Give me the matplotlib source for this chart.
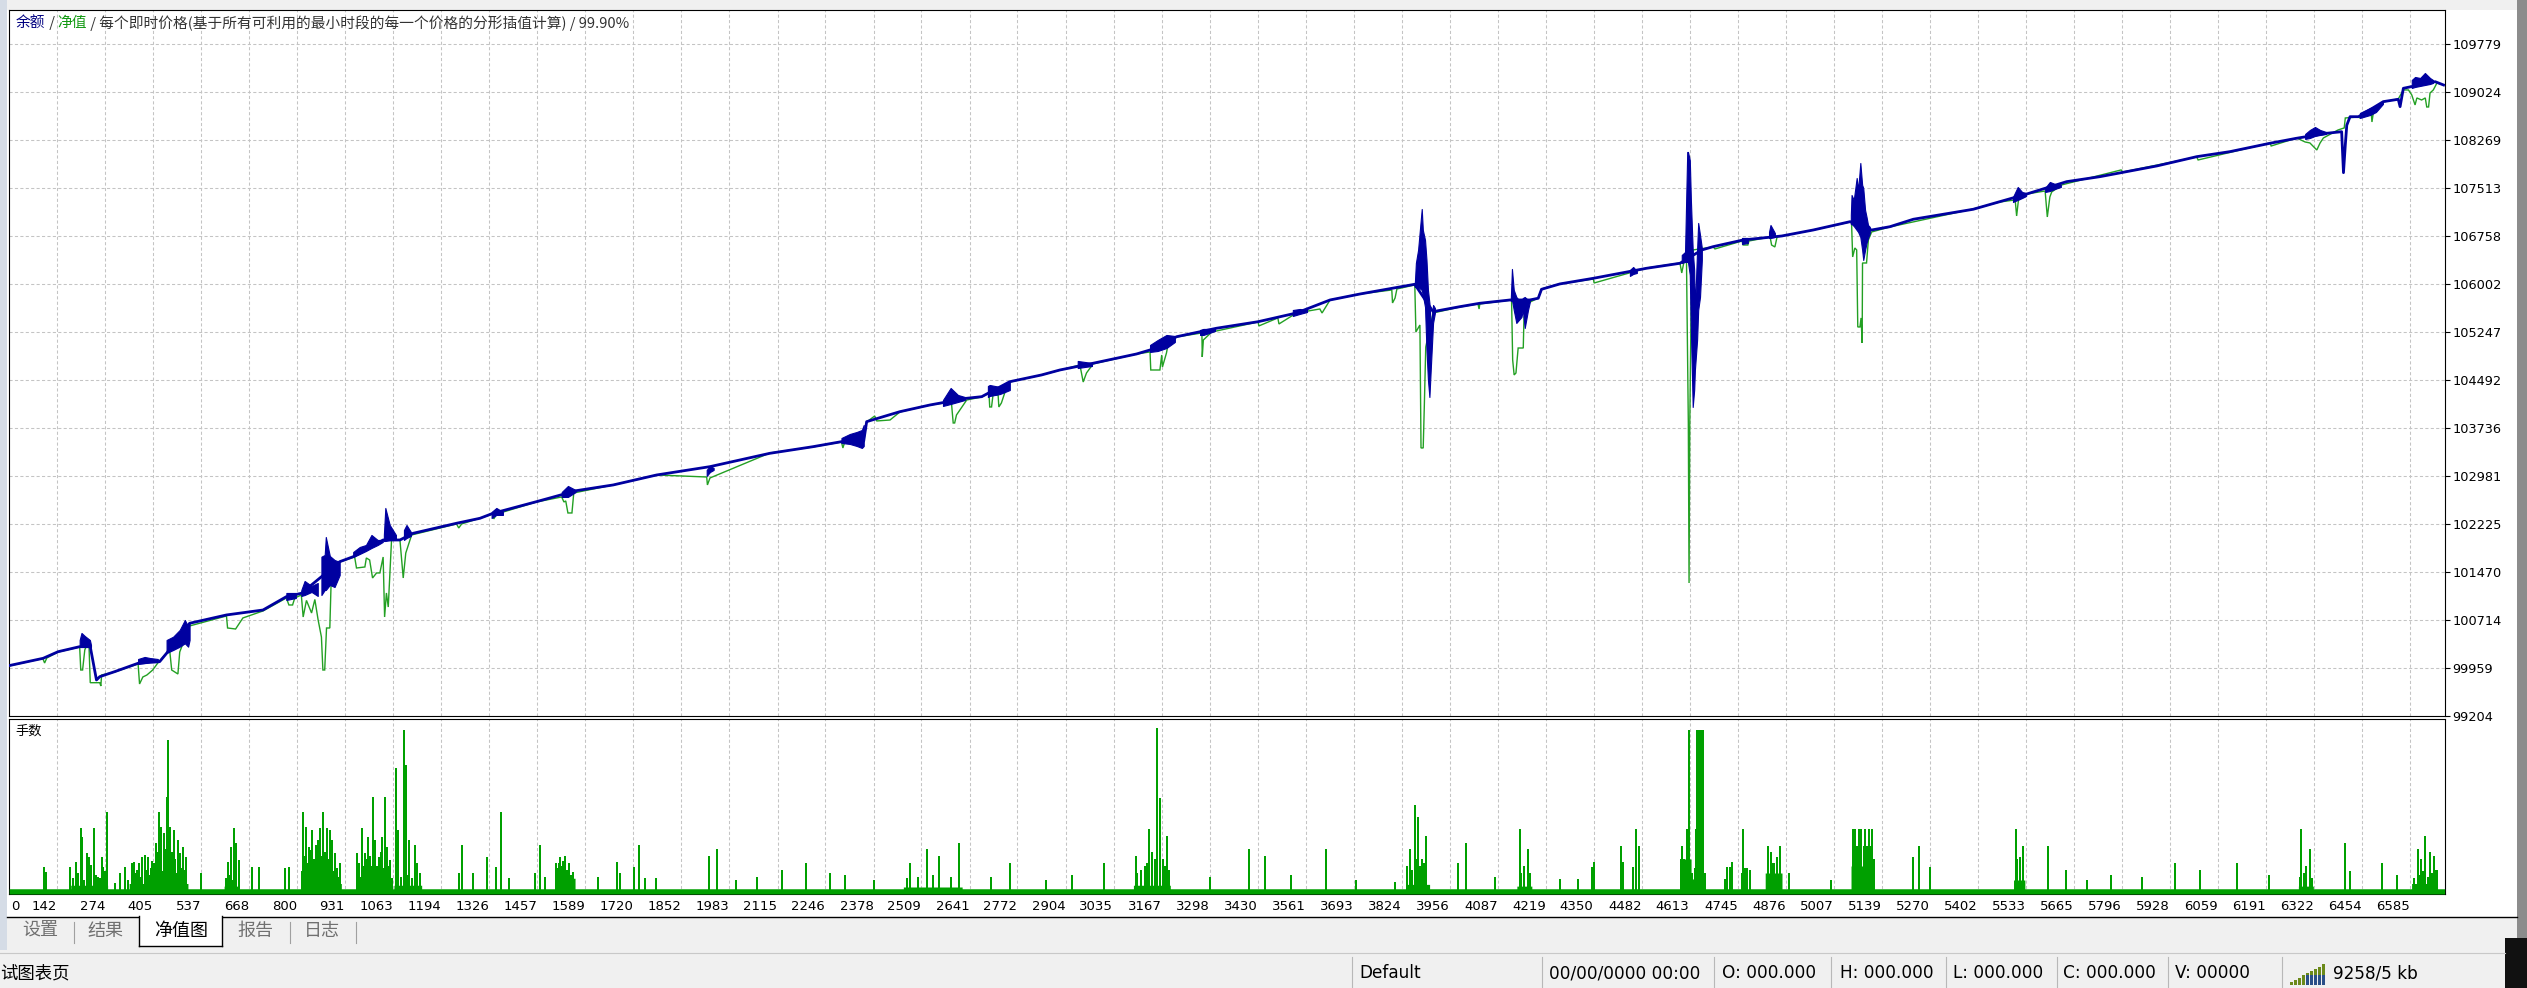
import numpy as np
import matplotlib
matplotlib.use('Agg')
import matplotlib.pyplot as plt
from matplotlib.patches import Rectangle
from matplotlib.lines import Line2D
from matplotlib.transforms import blended_transform_factory

W, H, DPI = 2527, 988, 100
CJK = ['Noto Sans CJK SC', 'DejaVu Sans']
NUM = 'DejaVu Sans'

BLUE = '#0000a0'
GREEN = '#23a023'
VGREEN = '#00a000'
GRID = '#c4c4c4'

# ---------------- data ----------------
X_TICKS = [142, 274, 405, 537, 668, 800, 931, 1063, 1194, 1326, 1457, 1589, 1720, 1852,
           1983, 2115, 2246, 2378, 2509, 2641, 2772, 2904, 3035, 3167, 3298, 3430, 3561,
           3693, 3824, 3956, 4087, 4219, 4350, 4482, 4613, 4745, 4876, 5007, 5139, 5270,
           5402, 5533, 5665, 5796, 5928, 6059, 6191, 6322, 6454, 6585]
Y_TICKS = [99204, 99959, 100714, 101470, 102225, 102981, 103736, 104492, 105247,
           106002, 106758, 107513, 108269, 109024, 109779]
X_MIN, X_MAX = 10.5, 6681
Y_MIN, Y_MAX = 99204, 110314

# balance (blue)
BAL_X = [10, 104, 145, 204, 233, 250, 259, 300, 364, 423, 442, 505, 606, 706, 770, 811,
         916, 953, 1035, 1081, 1117, 1236, 1300, 1336, 1455, 1564, 1665, 1784, 1930, 2094,
         2212, 2290, 2351, 2359, 2450, 2532, 2633, 2674, 2751, 2838, 2888, 2979, 3098, 3135,
         3208, 3317, 3431, 3536, 3628, 3710, 3860, 3910, 3984, 4038, 4121, 4175, 4198, 4207,
         4257, 4349, 4495, 4586, 4646, 4677, 4759, 4865, 4951, 5052, 5111, 5161, 5225, 5389,
         5462, 5536, 5645, 5736, 5892, 6001, 6092, 6202, 6275, 6357, 6398, 6403, 6408, 6412,
         6421, 6444, 6512, 6553, 6558, 6567, 6654, 6677]
BAL_Y = [99996, 100112, 100216, 100295, 100295, 99771, 99823, 99902, 100034, 100059, 100191,
         100663, 100794, 100872, 101082, 101135, 101632, 101711, 101974, 101974, 102079,
         102237, 102315, 102394, 102577, 102750, 102840, 102997, 103128, 103338, 103442,
         103521, 103532, 103836, 103993, 104098, 104204, 104229, 104465, 104571, 104649,
         104755, 104901, 104964, 105173, 105306, 105409, 105546, 105751, 105845, 105998,
         105567, 105646, 105699, 105751, 105751, 105778, 105919, 106003, 106092, 106250,
         106328, 106538, 106590, 106695, 106758, 106852, 106983, 106852, 106904, 107021,
         107178, 107298, 107419, 107613, 107691, 107860, 108006, 108085, 108217, 108296,
         108374, 108399, 107754, 108190, 108500, 108635, 108635, 108872, 108909, 108793,
         109082, 109186, 109134]

# balance swings drawn as filled blobs: x, upper, lower
BLOB_X = [[204, 209, 218, 232, 235], [364, 382, 396, 418], [442, 460, 478, 492, 501, 505],
          [770, 796], [811, 820, 839, 856], [866, 875, 878, 889, 902, 916],
          [953, 971, 988, 1003, 1020, 1034], [1037, 1041, 1053, 1070], [1092, 1099, 1111],
          [1332, 1345, 1363], [1524, 1541, 1562], [1921, 1930, 1940],
          [2290, 2313, 2332, 2346, 2351], [2568, 2589, 2609, 2628], [2691, 2696, 2724, 2751],
          [2937, 2957, 2976], [3135, 3156, 3180, 3203], [3272, 3281, 3313], [3526, 3545, 3565],
          [3860, 3863, 3869, 3879, 3882, 3888, 3892, 3896, 3900, 3904, 3910, 3915],
          [4123, 4126, 4131, 4138, 4145, 4152, 4156, 4161, 4170, 4175],
          [4449, 4458, 4468],
          [4591, 4600, 4606, 4608, 4613, 4616, 4621, 4625, 4627, 4633, 4636, 4641, 4646],
          [4756, 4772], [4830, 4834, 4846],
          [5054, 5056, 5062, 5070, 5074, 5080, 5085, 5088, 5093, 5097, 5101, 5106],
          [5498, 5511, 5523, 5534], [5586, 5599, 5613, 5629], [6298, 6311, 6325, 6339, 6355],
          [6448, 6476, 6492, 6511], [6590, 6599, 6613, 6626, 6640, 6648]]
BLOB_HI = [[100400, 100511, 100463, 100400, 100322], [100101, 100133, 100117, 100101],
           [100400, 100452, 100558, 100715, 100610, 100668], [101140, 101140],
           [101187, 101329, 101250, 101297], [101711, 101738, 102021, 101722, 101659, 101628],
           [101785, 101864, 101895, 102053, 101974, 101974], [102053, 102478, 102210, 102053],
           [102131, 102210, 102100], [102415, 102478, 102415], [102729, 102824, 102761],
           [103076, 103139, 103107], [103579, 103642, 103674, 103705, 103784],
           [104177, 104366, 104256, 104224], [104397, 104413, 104382, 104460],
           [104791, 104775, 104759], [105043, 105121, 105200, 105184], [105279, 105295, 105295],
           [105593, 105609, 105593],
           [106003, 106333, 106538, 107183, 106852, 106695, 106380, 105908, 105704, 105326,
            105672, 105625],
           [105782, 106239, 105908, 105798, 105751, 105751, 105782, 105798, 105751, 105767],
           [106223, 106270, 106207],
           [106459, 106506, 108080, 108080, 107954, 107325, 106538, 106223, 105593, 106538,
            106963, 106774, 106569],
           [106727, 106727], [106821, 106931, 106805],
           [107089, 107403, 107325, 107671, 107482, 107907, 107561, 107513, 107167, 107057,
            106931, 106900],
           [107372, 107529, 107450, 107435], [107513, 107608, 107576, 107561],
           [108363, 108426, 108473, 108426, 108395], [108694, 108772, 108804, 108883],
           [109213, 109260, 109244, 109323, 109244, 109213]]
BLOB_LO = [[100290, 100290, 100290, 100290, 100290], [100023, 100038, 100054, 100054],
           [100196, 100243, 100295, 100348, 100295, 100400], [101030, 101061],
           [101093, 101108, 101156, 101093], [101108, 101187, 101187, 101266, 101234, 101423],
           [101706, 101754, 101801, 101848, 101895, 101943], [101958, 101958, 101974, 101974],
           [101974, 102005, 102037], [102320, 102368, 102368], [102651, 102651, 102729],
           [102981, 103044, 103076], [103501, 103485, 103453, 103422, 103453],
           [104083, 104114, 104146, 104177], [104224, 104240, 104271, 104334],
           [104680, 104697, 104712], [104933, 104948, 104995, 105090], [105200, 105200, 105263],
           [105499, 105531, 105562],
           [105955, 105955, 105955, 105908, 105830, 105641, 104964, 104492, 104224, 104697,
            105389, 105546],
           [105735, 105751, 105593, 105389, 105436, 105483, 105593, 105310, 105593, 105720],
           [106129, 106160, 106176],
           [106333, 106349, 106349, 106349, 106145, 105279, 104067, 104334, 104649, 105121,
            105593, 105798, 106380],
           [106632, 106648], [106727, 106727, 106742],
           [106947, 106947, 106915, 106852, 106821, 106742, 106538, 106380, 106538, 106648,
            106727, 106805],
           [107293, 107325, 107356, 107387], [107450, 107466, 107498, 107529],
           [108285, 108300, 108332, 108348, 108363], [108615, 108662, 108709, 108835],
           [109087, 109103, 109119, 109134, 109150, 109166]]

# equity (green)
EQ_X = [10, 103, 108, 114, 145, 204, 207, 212, 218, 229, 233, 259, 262, 264, 300, 364, 368,
        377, 388, 404, 418, 442, 451, 456, 473, 478, 505, 606, 609, 631, 651, 706, 770, 777,
        787, 793, 811, 816, 825, 839, 848, 857, 866, 870, 875, 880, 889, 893, 902, 916, 957,
        962, 985, 989, 998, 1006, 1017, 1026, 1035, 1039, 1044, 1049, 1058, 1081, 1090, 1097,
        1113, 1236, 1242, 1250, 1336, 1338, 1346, 1455, 1524, 1530, 1535, 1541, 1552, 1557,
        1665, 1784, 1921, 1923, 1930, 2094, 2212, 2290, 2294, 2299, 2351, 2359, 2381, 2387,
        2423, 2450, 2532, 2591, 2596, 2600, 2605, 2633, 2674, 2694, 2696, 2701, 2705, 2719,
        2721, 2728, 2737, 2751, 2838, 2943, 2952, 2961, 2979, 3098, 3135, 3137, 3162, 3167,
        3169, 3180, 3185, 3208, 3277, 3278, 3281, 3304, 3431, 3433, 3485, 3488, 3536, 3600,
        3606, 3628, 3710, 3797, 3799, 3806, 3811, 3860, 3863, 3874, 3877, 3883, 3886, 3890,
        3910, 3984, 4033, 4036, 4038, 4125, 4128, 4132, 4137, 4143, 4157, 4159, 4171, 4198,
        4207, 4257, 4349, 4351, 4495, 4586, 4591, 4597, 4604, 4609, 4611, 4613, 4618, 4622,
        4677, 4682, 4756, 4759, 4772, 4775, 4833, 4837, 4846, 4852, 4951, 5052, 5056, 5059,
        5065, 5070, 5073, 5079, 5082, 5085, 5086, 5097, 5102, 5111, 5161, 5389, 5462, 5504,
        5508, 5513, 5536, 5586, 5592, 5599, 5604, 5631, 5794, 5799, 6001, 6005, 6202, 6205,
        6275, 6298, 6311, 6330, 6339, 6348, 6388, 6405, 6408, 6444, 6448, 6457, 6479, 6481,
        6485, 6512, 6553, 6567, 6581, 6590, 6599, 6604, 6617, 6627, 6631, 6636, 6640, 6649,
        6659, 6677]
EQ_Y = [99991, 100109, 100038, 100117, 100211, 100290, 99928, 99928, 100243, 100400, 99728,
        99728, 99676, 99849, 99897, 100023, 99708, 99818, 99849, 99928, 100038, 100196, 100211,
        99928, 99865, 100211, 100621, 100778, 100589, 100573, 100747, 100857, 101061, 100951,
        100951, 101061, 101108, 100762, 101023, 100825, 101038, 100715, 100447, 99928, 99928,
        100589, 100589, 101397, 101455, 101628, 101706, 101533, 101549, 101691, 101659, 101376,
        101455, 101455, 101706, 100762, 101140, 100919, 101974, 101974, 101376, 101769, 102053,
        102226, 102163, 102226, 102383, 102305, 102383, 102572, 102651, 102572, 102588, 102399,
        102399, 102714, 102840, 102997, 102965, 102840, 102950, 103343, 103438, 103516, 103422,
        103516, 103516, 103831, 103925, 103847, 103862, 103988, 104098, 104146, 103815, 103815,
        103941, 104177, 104224, 104287, 104067, 104067, 104256, 104256, 104067, 104130, 104287,
        104460, 104571, 104728, 104460, 104602, 104744, 104901, 104933, 104649, 104649, 104885,
        104697, 104917, 105074, 105169, 105232, 104854, 105121, 105247, 105405, 105342, 105468,
        105373, 105546, 105609, 105546, 105751, 105845, 105908, 105704, 105782, 105924, 105987,
        105247, 105357, 103422, 103422, 104067, 105011, 105546, 105641, 105688, 105609, 105688,
        105751, 104807, 104571, 104602, 104995, 104995, 105483, 105704, 105782, 105924, 106003,
        106081, 106018, 106254, 106333, 106176, 106349, 106349, 103815, 101297, 103815, 106333,
        106538, 106585, 106554, 106679, 106616, 106616, 106679, 106742, 106616, 106585, 106742,
        106852, 106978, 106963, 106428, 106569, 106538, 105326, 105326, 105468, 105074, 106333,
        106333, 106696, 106821, 106900, 107183, 107293, 107325, 107073, 107325, 107419, 107466,
        107057, 107372, 107450, 107561, 107797, 107765, 108001, 107954, 108222, 108174, 108300,
        108237, 108222, 108111, 108222, 108300, 108426, 108458, 108615, 108630, 108615, 108662,
        108694, 108552, 108709, 108867, 108914, 109056, 109056, 108977, 108820, 108930, 108898,
        108930, 108788, 108788, 109008, 109056, 109166, 109134]

# lots (手数) panel: (bar, height in % of panel)
VOL_BASE = 3
VOL_SPIKES = [
    (107, 15.6), (111, 12.8), (178, 15.6), (186, 9), (195, 18.5), (200, 12), (208, 37.5),
    (211, 32.8), (216, 8), (223, 23.2), (230, 21.3), (236, 16.6), (244, 37.5), (250, 11),
    (254, 9.9), (260, 9), (266, 21.3), (269, 15.6), (274, 13), (278, 47.1), (300, 6.1),
    (315, 11.8), (327, 15.6), (336, 8), (346, 17.5), (352, 18.5), (356, 12), (360, 14),
    (366, 18), (370, 10), (374, 21.3), (382, 22.3), (386, 14), (391, 21.3), (394, 11),
    (398, 15), (402, 19), (407, 17.5), (410, 16), (413, 29), (418, 24), (421, 47.1),
    (425, 20), (428, 38.5), (431, 13), (435, 34.7), (438, 26), (443, 55.6), (446, 88),
    (450, 30), (452, 38.5), (456, 24), (458, 17), (462, 36.6), (466, 20), (469, 12),
    (472, 30.9), (476, 16), (480, 23.2), (483, 15), (486, 27), (490, 14), (493, 11),
    (496, 21.3), (535, 11.8), (604, 9), (609, 18.5), (614, 11), (618, 27), (623, 8),
    (627, 37.5), (633, 29), (639, 19.4), (676, 15.6), (694, 15.6), (767, 14.7), (777, 15.6),
    (812, 13), (816, 47.1), (820, 22), (824, 38.5), (828, 18), (831, 27), (835, 25),
    (838, 15), (841, 36.6), (844, 11), (846, 20), (850, 28), (854, 17), (857, 30.9),
    (860, 14), (863, 37.5), (867, 22), (871, 47.1), (874, 12), (876, 24), (881, 37.5),
    (884, 16), (886, 20), (890, 36.6), (893, 18), (896, 30.9), (899, 13), (902, 23.2),
    (908, 15), (912, 10), (918, 17.5), (963, 23.2), (966, 12), (970, 18), (974, 10),
    (978, 37.5), (982, 16), (985, 23.2), (989, 14), (990, 20), (994, 32.8), (997, 11),
    (1000, 22), (1003, 16), (1006, 55.6), (1012, 30.9), (1015, 13), (1018, 16), (1021, 10),
    (1024, 21.3), (1028, 24), (1033, 32.8), (1036, 15), (1039, 55.6), (1043, 20), (1046, 27),
    (1050, 16), (1052, 12), (1055, 19.4), (1060, 9), (1069, 71.8), (1073, 13), (1077, 36.6),
    (1084, 10), (1091, 93.7), (1098, 73.7), (1102, 11), (1107, 30.9), (1115, 9),
    (1122, 28), (1128, 17.5), (1137, 11.8), (1244, 11.8), (1250, 28), (1281, 11.8),
    (1320, 21.3), (1345, 15.6), (1357, 47.1), (1379, 9), (1452, 11.8), (1464, 28),
    (1479, 9.9), (1507, 17.5), (1512, 15), (1516, 18), (1519, 21.3), (1524, 16), (1528, 19),
    (1532, 21.7), (1538, 14), (1544, 17.5), (1550, 11), (1556, 12.8), (1623, 9.9),
    (1676, 18.5), (1684, 11.8), (1721, 15.6), (1736, 28), (1752, 9), (1782, 9),
    (1927, 22), (1949, 26), (2000, 8), (2060, 10), (2126, 14), (2192, 18), (2258, 12),
    (2300, 11), (2380, 8), (2470, 9), (2479, 18), (2500, 10), (2523, 26), (2540, 11),
    (2558, 22), (2590, 10), (2611, 29), (2700, 10), (2752, 18), (2850, 8), (2920, 11),
    (3008, 18), (3097, 22), (3100, 12), (3110, 14), (3120, 16), (3126, 18), (3132, 37),
    (3140, 24), (3148, 20), (3154, 94.6), (3163, 55), (3170, 20), (3176, 16), (3181, 33),
    (3186, 14), (3300, 10), (3406, 26), (3450, 22), (3520, 11), (3617, 26), (3700, 8),
    (3807, 7), (3840, 16), (3847, 26), (3852, 14), (3860, 51), (3864, 20), (3869, 44),
    (3875, 16), (3880, 20), (3886, 18), (3891, 33), (3979, 18), (4001, 29), (4080, 10),
    (4147, 37), (4150, 12), (4160, 16), (4169, 26), (4176, 12),
    (4257, 8.6), (4307, 8.6), (4344, 15.3), (4350, 18.2), (4425, 27.7), (4431, 18.2),
    (4458, 15.3), (4467, 36.9), (4475, 27.7), (4588, 20), (4591, 27.7), (4596, 20),
    (4600, 18), (4605, 36.9), (4609, 25), (4612, 93.7), (4620, 12), (4626, 15),
    (4629, 36.9), (4632, 93.7), (4636, 20), (4639, 93.7), (4645, 93.7), (4650, 93.7),
    (4654, 12), (4709, 8.6), (4715, 15.3), (4723, 15.3), (4729, 18.2), (4755, 12),
    (4759, 36.9), (4764, 15), (4770, 15), (4777, 14), (4828, 27.7), (4835, 24), (4840, 18),
    (4844, 18), (4852, 21), (4859, 27.7), (4884, 12), (5000, 8), (5059, 36.9), (5063, 27.7),
    (5066, 36.9), (5071, 27.7), (5075, 36.9), (5079, 27.7), (5083, 36.9), (5089, 27.7),
    (5094, 36.9), (5099, 27.7), (5103, 36.9), (5108, 27.7), (5111, 36.9), (5117, 20),
    (5225, 21), (5240, 27.7), (5270, 15.3), (5505, 36.9), (5508, 20), (5517, 21),
    (5526, 27.7), (5595, 27.7), (5643, 14), (5700, 8), (5767, 11), (5850, 10), (5943, 18),
    (6010, 14), (6111, 18), (6200, 11), (6284, 10), (6288, 37), (6296, 12), (6300, 16),
    (6310, 26), (6316, 9), (6407, 29), (6420, 13), (6509, 18), (6550, 11), (6596, 9),
    (6606, 26), (6610, 11), (6615, 20), (6622, 13), (6627, 33), (6634, 10), (6640, 24),
    (6645, 12), (6650, 22), (6655, 14), (6660, 14)]
CLUSTER_START = [180, 340, 600, 810, 960, 1065, 1505, 2460, 3090, 3840, 4140, 4588, 4617, 4820,
                 5055, 5500, 6280, 6590]
CLUSTER_END = [280, 500, 640, 920, 1060, 1140, 1560, 2620, 3190, 3900, 4180, 4616, 4655, 4865,
               5118, 5530, 6320, 6660]
CLUSTER_LOT = [5, 6, 4.5, 6, 7, 5, 9, 4, 5, 5.5, 4.5, 20, 8.6, 12, 16, 8, 4.5, 6]

TITLE_PARTS = ['余额', ' / ', '净值', ' / 每个即时价格(基于所有可利用的最小时段的每一个价格的分形插值计算) / 99.90%']
TITLE_COLORS = ['#000080', '#333333', '#119911', '#333333']
TABS = ['设置', '结果', '净值图', '报告', '日志']
STATUS = ['Default', '00/00/0000 00:00', 'O: 000.000', 'H: 000.000', 'L: 000.000',
          'C: 000.000', 'V: 00000', '9258/5 kb']


def fxp(x):
    return x / W


def fyp(y):
    return 1 - y / H


def rect(fig, x0, y0, x1, y1, color, z=-5, **kw):
    fig.patches.append(Rectangle((fxp(x0), fyp(y1)), (x1 - x0) / W, (y1 - y0) / H,
                                 transform=fig.transFigure, facecolor=color, zorder=z, **kw))


def hline(fig, x0, x1, y, color='black', lw=0.75, z=5):
    fig.add_artist(Line2D([fxp(x0), fxp(x1)], [fyp(y), fyp(y)], color=color, lw=lw,
                          transform=fig.transFigure, zorder=z))


def vline(fig, x, y0, y1, color='black', lw=0.75, z=5):
    fig.add_artist(Line2D([fxp(x), fxp(x)], [fyp(y0), fyp(y1)], color=color, lw=lw,
                          transform=fig.transFigure, zorder=z))


fig = plt.figure(figsize=(W / DPI, H / DPI), dpi=DPI, facecolor='#f0f0f0')

# window background pieces
rect(fig, 7, 10, 2517, 917, 'white', z=-10)
rect(fig, 0, 0, 7, 950, '#d5dce6', z=-9)
rect(fig, 2517, 0, W, H, '#8c8c8c', z=-9)
rect(fig, 2505, 938, W, H, '#111111', z=-8)

ax = fig.add_axes([fxp(9), fyp(716), (2445 - 9) / W, (716 - 10) / H])
axv = fig.add_axes([fxp(9), fyp(894), (2445 - 9) / W, (894 - 719) / H])

dash = (0, (3.0, 2.2))
for a in (ax, axv):
    a.set_facecolor('white')
    a.set_xlim(X_MIN, X_MAX)
    a.set_xticks(X_TICKS)
    a.tick_params(axis='x', length=0, labelbottom=False)
    a.grid(axis='x', color=GRID, lw=0.75, linestyle=dash, zorder=0)
    a.set_axisbelow(True)
    for s in a.spines.values():
        s.set_color('black')
        s.set_linewidth(0.8)

# main equity panel
ax.set_ylim(Y_MIN, Y_MAX)
ax.yaxis.tick_right()
ax.set_yticks(Y_TICKS)
ax.set_yticklabels([str(v) for v in Y_TICKS], fontsize=9.3, family=NUM)
ax.tick_params(axis='y', direction='out', length=3.6, width=0.8, pad=1.5, colors='black')
ax.grid(axis='y', color=GRID, lw=0.75, linestyle=dash, zorder=0)

ax.plot(EQ_X, EQ_Y, color=GREEN, lw=1.0, zorder=3, solid_joinstyle='miter')
for bx, bh, bl in zip(BLOB_X, BLOB_HI, BLOB_LO):
    ax.fill_between(bx, bl, bh, color=BLUE, lw=0.8, edgecolor=BLUE, zorder=4)
ax.plot(BAL_X, BAL_Y, color=BLUE, lw=2.0, zorder=5, solid_joinstyle='round')

# lots panel
axv.set_ylim(0, 100)
axv.set_yticks([])
vx = np.arange(11, 6681)
vol = np.full(vx.shape, float(VOL_BASE))
for s, e, l in zip(CLUSTER_START, CLUSTER_END, CLUSTER_LOT):
    m = (vx >= s) & (vx <= e)
    vol[m] = np.maximum(vol[m], l)
axv.fill_between(vx, 0, vol, step='mid', color=VGREEN, lw=0, zorder=3)
vol_bar = [b for b, _ in VOL_SPIKES]
vol_lot = [v for _, v in VOL_SPIKES]
axv.vlines(vol_bar, 0, vol_lot, color=VGREEN, lw=1.15, zorder=3, antialiased=False)
axv.text(0.0025, 0.93, '手数', transform=axv.transAxes, fontsize=9.5, family=CJK,
         ha='left', va='center', color='black')

# x labels under lots panel
tr = blended_transform_factory(axv.transData, fig.transFigure)
for v in X_TICKS:
    axv.text(v - 0.5, fyp(906), str(v), transform=tr, ha='right', va='center',
             fontsize=9.5, family=NUM, color='black', clip_on=False)
fig.text(fxp(11), fyp(906), '0', ha='left', va='center', fontsize=9.5, family=NUM)

# title with coloured parts
renderer = fig.canvas.get_renderer()
tx = 16
for part, col in zip(TITLE_PARTS, TITLE_COLORS):
    t = fig.text(fxp(tx), fyp(23), part, color=col, fontsize=10.6, family=CJK,
                 ha='left', va='center')
    tx += t.get_window_extent(renderer).width

# bottom frame line of chart and tabs
hline(fig, 7, 2517, 917, lw=1.0)
rect(fig, 139, 916, 222, 946, 'white', z=6)
vline(fig, 139, 916, 946, lw=1.0, z=7)
vline(fig, 222, 916, 946, lw=1.0, z=7)
hline(fig, 139, 222, 946, lw=1.0, z=7)
tab_cx = [40, 105, 181, 255, 322]
for name, cx in zip(TABS, tab_cx):
    sel = name == '净值图'
    fig.text(fxp(cx), fyp(931), name, ha='center', va='center', fontsize=13, family=CJK,
             color='black' if sel else '#707070', zorder=8)
for sx in [74, 290, 356]:
    vline(fig, sx, 922, 943, color='#a0a0a0', lw=0.8)

# status bar
hline(fig, 0, 2505, 953, color='#c8c8c8', lw=0.8)
fig.text(fxp(0), fyp(973), '试图表页', ha='left', va='center', fontsize=12.5, family=CJK)
status_x = [1359, 1549, 1722, 1840, 1953, 2063, 2175, 2333]
for s, x in zip(STATUS, status_x):
    fig.text(fxp(x), fyp(973), s, ha='left', va='center', fontsize=12.2, family=NUM,
             color='black')
for sx in [1352, 1542, 1714, 1831, 1946, 2057, 2168, 2282]:
    vline(fig, sx, 957, 988, color='#b8b8b8', lw=0.8)
# little traffic icon
for i in range(9):
    x0 = 2290 + i * 4
    top = 982 - 2.2 * i
    rect(fig, x0, top, x0 + 2.5, 985, '#6b8a1a', z=6)
    rect(fig, x0, max(top, 975), x0 + 2.5, 985, '#2a4f88' if i > 3 else '#6b8a1a', z=7)

fig.savefig('out.png', dpi=DPI, facecolor=fig.get_facecolor())
